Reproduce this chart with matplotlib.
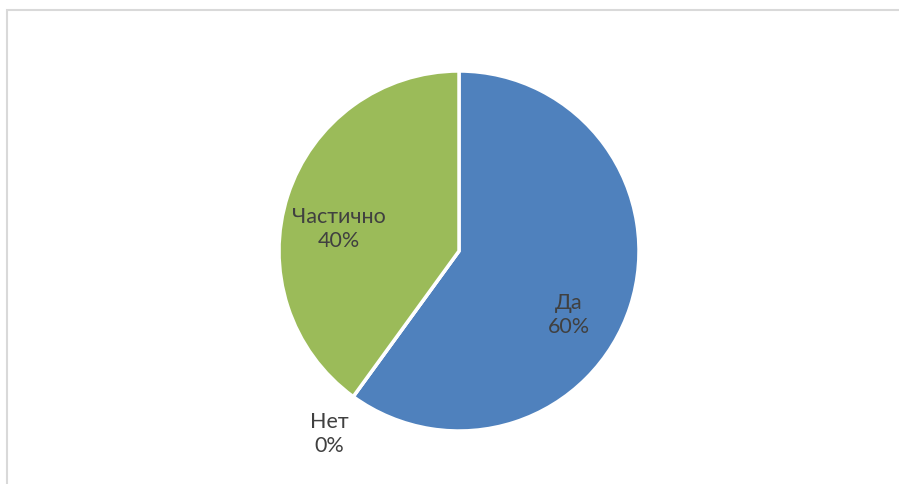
import matplotlib
matplotlib.use("Agg")
import matplotlib.pyplot as plt
from matplotlib.patches import Rectangle

categories = ["Да", "Нет", "Частично"]
values = [60, 0, 40]
colors = ["#4F81BD", "#C0504D", "#9BBB59"]
pct_labels = ["60%", "0%", "40%"]

W, H = 899, 485
fig = plt.figure(figsize=(W / 100, H / 100), dpi=100)
ax = fig.add_axes([0, 0, 1, 1])
ax.set_xlim(0, W)
ax.set_ylim(0, H)
ax.axis("off")

# chart border (extends past right/bottom edge)
ax.add_patch(Rectangle((6.5, -20), W + 20, H - 10.5 + 20, fill=False,
                       edgecolor="#D9D9D9", linewidth=1.5))

cx, cy, r = 459, 252, 180
ax.pie(values, colors=colors, startangle=90, counterclock=False,
       center=(cx, H - cy), radius=r, frame=True,
       wedgeprops=dict(edgecolor="white", linewidth=2.5))
ax.set_xlim(0, W)
ax.set_ylim(0, H)
ax.axis("off")

label_pos = [(569, 315), (329, 434), (339, 229)]
for cat, pct, (x, y) in zip(categories, pct_labels, label_pos):
    ax.text(x, H - y, f"{cat}\n{pct}", ha="center", va="center", zorder=10,
            fontsize=15.5, color="#404040", family="Lato", linespacing=1.2)

fig.savefig("out.png", dpi=100)
